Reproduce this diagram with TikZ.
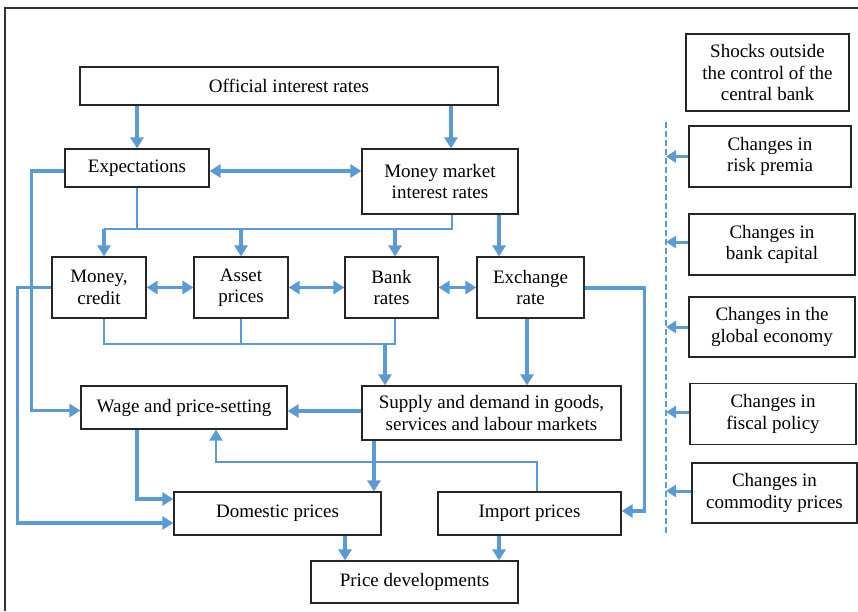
\documentclass[tikz,border=0pt]{standalone}
\usepackage{fontspec}
\setmainfont{Liberation Serif}
\usetikzlibrary{arrows.meta,calc}
\definecolor{ablue}{HTML}{5B9BD5}
\definecolor{frame}{HTML}{333333}
\begin{document}
\begin{tikzpicture}[x=1pt,y=-1pt,
 box/.style={draw=black!85, line width=1.2pt, inner sep=0pt, align=center, font=\fontsize{19}{21.5}\selectfont},
 tip/.tip={Triangle[length=11pt,width=13pt]},
 thk/.style={draw=ablue, line width=3.6pt, -tip},
 dbl/.style={draw=ablue, line width=3.6pt, tip-tip},
 thn/.style={draw=ablue, line width=1.6pt},
 thna/.style={draw=ablue, line width=1.8pt, -{Triangle[length=11pt,width=13pt]}},
 shk/.style={draw=ablue, line width=3pt, -{Triangle[length=10pt,width=12pt]}},
 dsh/.style={draw=ablue, line width=1.4pt, dash pattern=on 6pt off 3pt},
]
\useasboundingbox (0,0) rectangle (858,611);
\fill[white] (0,0) rectangle (858,611);
\draw[frame, line width=1.3pt] (5,611) -- (5,8) -- (858,8);

% nodes
\node[box, minimum width=418pt, minimum height=38pt] (off) at (289,86) {Official interest rates};
\node[box, minimum width=144pt, minimum height=38pt] (exp) at (137,168) {Expectations};
\node[box, minimum width=156pt, minimum height=65pt] (mm) at (440,181.5) {Money market\\interest rates};
\node[box, minimum width=163pt, minimum height=77pt] (shock) at (767.5,72.5) {Shocks outside\\the control of the\\central bank};
\node[box, minimum width=162pt, minimum height=61pt] (risk) at (770,156.5) {Changes in\\risk premia};
\node[box, minimum width=166pt, minimum height=61pt] (bcap) at (772,244.5) {Changes in\\bank capital};
\node[box, minimum width=166pt, minimum height=60pt] (glob) at (772,327) {Changes in the\\global economy};
\node[box, minimum width=166pt, minimum height=61pt] (fisc) at (773,414) {Changes in\\fiscal policy};
\node[box, minimum width=165pt, minimum height=60pt] (comm) at (774.5,493) {Changes in\\commodity prices};
\node[box, minimum width=94pt, minimum height=61pt] (money) at (99,287.5) {Money,\\credit};
\node[box, minimum width=94pt, minimum height=61pt] (asset) at (241,287.5) {Asset\\prices};
\node[box, minimum width=93pt, minimum height=61pt] (bank) at (391.5,287.5) {Bank\\rates};
\node[box, minimum width=107pt, minimum height=61pt] (exch) at (530.5,287.5) {Exchange\\rate};
\node[box, minimum width=206pt, minimum height=43pt] (wage) at (184,407.5) {Wage and price-setting};
\node[box, minimum width=259pt, minimum height=54pt] (supply) at (491.5,413) {Supply and demand in goods,\\services and labour markets};
\node[box, minimum width=207pt, minimum height=43pt] (dom) at (277.5,513.5) {Domestic prices};
\node[box, minimum width=183pt, minimum height=43pt] (imp) at (529.5,513.5) {Import prices};
\node[box, minimum width=207pt, minimum height=42pt] (price) at (414.5,582) {Price developments};

% helper coordinates
\coordinate (busA) at (0,229);
\coordinate (busB) at (0,344);
\coordinate (busC) at (0,462);
\coordinate (dtop) at (666,122);
\coordinate (dbot) at (666,535);
\coordinate (mmt) at ([xshift=11pt]mm.north);
\coordinate (mmb) at ([xshift=12pt]mm.south);
\coordinate (mmx) at ([xshift=59pt]mm.south);
\coordinate (mcin) at ([xshift=5pt]money.north);
\coordinate (mcout) at ([xshift=5pt]money.south);
\coordinate (bkin) at ([xshift=3.5pt]bank.north);
\coordinate (bkout) at ([xshift=3.5pt]bank.south);
\coordinate (sin) at ([xshift=-106.5pt]supply.north);
\coordinate (sout) at ([xshift=-117.5pt]supply.south);
\coordinate (wout) at ([xshift=-47pt]wage.south);
\coordinate (win) at ([xshift=32pt]wage.south);
\coordinate (iout) at ([xshift=7.5pt]imp.north);
\coordinate (dpo) at ([xshift=67.5pt]dom.south);
\coordinate (ipo) at ([xshift=-30.5pt]imp.south);
\coordinate (exo) at ([xshift=-3.5pt]exch.south);

% top connectors
\draw[thk] (off.south -| exp.north) -- (exp.north);
\draw[thk] (off.south -| mmt) -- (mmt);
\draw[dbl] ([yshift=-3pt]exp.east) -- ([yshift=-3pt]exp.east -| mm.west);

% left long lines
\draw[thk] ([yshift=-3pt]exp.west) -- ++(-33,0) |- ([yshift=-3pt]wage.west);
\draw[thk] (money.west) -- ++(-34,0) |- ([yshift=-9.5pt]dom.west);

% bus A
\draw[thn] (exp.south) -- (exp.south |- busA);
\draw[thn] (mcin |- busA) -- (mmb |- busA) -- (mmb);
\draw[thk] (mcin |- busA) -- (mcin);
\draw[thk] (asset.north |- busA) -- (asset.north);
\draw[thk] (bkin |- busA) -- (bkin);
\draw[thk] (mmx) -- (mmx |- exch.north);

% row 2 double arrows
\draw[dbl] (money.east) -- (asset.west);
\draw[dbl] (asset.east) -- (bank.west);
\draw[dbl] (bank.east) -- (exch.west);

% bus B
\draw[thn] (mcout) |- (bkout |- busB) -- (bkout);
\draw[thn] (asset.south) -- (asset.south |- busB);
\draw[thk] (sin |- busB) -- (sin);
\draw[thk] (exo) -- (exo |- supply.north);
\draw[thk] ([yshift=-0.5pt]exch.east) -- ++(60,0) |- ([yshift=2.5pt]imp.east);

% row 3/4
\draw[thk] ([yshift=2pt]supply.west) -- ([yshift=2pt]supply.west -| wage.east);
\draw[thk] (wout) |- ([yshift=14.5pt]dom.west);
\draw[thk] (sout) -- (sout |- dom.north);
\draw[thna] (iout) |- (win |- busC) -- (win);
\draw[thk] (dpo) -- (dpo |- price.north);
\draw[thk] (ipo) -- (ipo |- price.north);

% shocks
\draw[dsh] (dtop) -- (dbot);
\draw[shk] (risk.west) -- (risk.west -| dtop);
\draw[shk] ([yshift=2.5pt]bcap.west) -- ([yshift=2.5pt]bcap.west -| dtop);
\draw[shk] (glob.west) -- (glob.west -| dtop);
\draw[shk] ([yshift=2pt]fisc.west) -- ([yshift=2pt]fisc.west -| dtop);
\draw[shk] ([yshift=2pt]comm.west) -- ([yshift=2pt]comm.west -| dtop);
\end{tikzpicture}
\end{document}
